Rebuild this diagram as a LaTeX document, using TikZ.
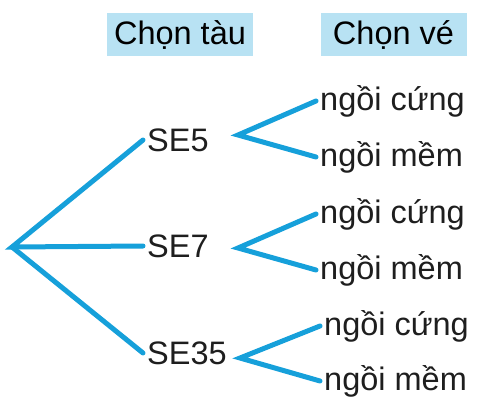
\documentclass[tikz,border=0pt]{standalone}
\usepackage{fontspec}
\setmainfont{Liberation Sans}
\usepackage{xcolor}
\definecolor{treeblue}{RGB}{22,160,218}
\definecolor{headblue}{RGB}{184,226,243}
\definecolor{inkgray}{RGB}{30,30,30}

\begin{document}
\begin{tikzpicture}[x=1pt, y=-1pt,
	branch/.style={draw=treeblue, line width=5pt, line cap=round},
	header/.style={fill=headblue, minimum width=146pt, minimum height=43pt, inner sep=0pt},
	item/.style={anchor=west, inner sep=4pt, text=inkgray}]
	\useasboundingbox (0,0) rectangle (483,408);
	\fontsize{32.5}{38}\selectfont
	% headers
	\node[header] (hdtrain) at (180,34.5) {Chọn tàu};
	\node[header] (hdticket) at (393.5,34.5) {Chọn vé};
	% root and trains
	\coordinate (root) at (12,247);
	\node[item] (se5) at (143,140) {SE5};
	\node[item] (se7) at (143,246) {SE7};
	\node[item] (se35) at (143,353) {SE35};
	\draw[branch] (se5.west) -- (root) -- (se7.west);
	\draw[branch] (root) -- (se35.west);
	% tickets
	\coordinate (v5) at (238,135);
	\coordinate (v7) at (238,248);
	\coordinate (v35) at (240,358);
	\node[item] (hard5) at (316,101) {ngồi cứng};
	\node[item] (soft5) at (316,157) {ngồi mềm};
	\node[item] (hard7) at (316,214) {ngồi cứng};
	\node[item] (soft7) at (316,270) {ngồi mềm};
	\node[item] (hard35) at (320,326) {ngồi cứng};
	\node[item] (soft35) at (320,381) {ngồi mềm};
	\draw[branch] (hard5.west) -- (v5) -- (soft5.west);
	\draw[branch] (hard7.west) -- (v7) -- (soft7.west);
	\draw[branch] (hard35.west) -- (v35) -- (soft35.west);
\end{tikzpicture}
\end{document}
